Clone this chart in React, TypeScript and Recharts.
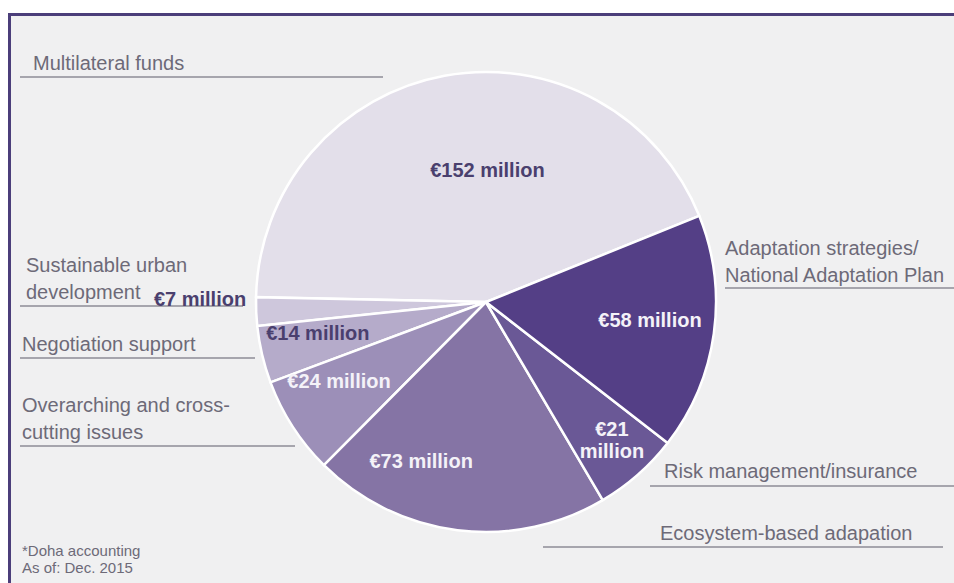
import { Pie, PieChart, Cell } from "recharts";

// slices, counter-clockwise from the upper-right boundary
const categories = [
  "Multilateral funds",
  "Sustainable urban development",
  "Negotiation support",
  "Overarching and cross-cutting issues",
  "Ecosystem-based adapation",
  "Risk management/insurance",
  "Adaptation strategies/National Adaptation Plan",
];
const amounts = [152, 7, 14, 24, 73, 21, 58];
const valueLabels = [
  ["€152 million"],
  ["€7 million"],
  ["€14 million"],
  ["€24 million"],
  ["€73 million"],
  ["€21", "million"],
  ["€58 million"],
];
const sliceColors = ["#E3DFEA", "#CEC7DC", "#B5ABCA", "#9C8FB8", "#8574A5", "#6A5896", "#543F86"];

const data = categories.map((name, i) => ({ name, value: amounts[i], lines: valueLabels[i] }));

// where each value label sits: radius and angle nudge off the slice middle
const labelSpot = [
  { r: 132, da: -11, dark: true },
  { r: 286, da: -3, dark: true },
  { r: 171, da: -2.7, dark: true },
  { r: 167, da: -4.5, dark: false },
  { r: 172, da: -15, dark: false },
  { r: 187, da: 1, dark: false },
  { r: 165, da: 1.6, dark: false },
];

const RAD = Math.PI / 180;
const FONT = "'Liberation Sans', Arial, sans-serif";

function ValueLabel(props: any) {
  const { cx, cy, midAngle, index } = props;
  const spot = labelSpot[index];
  const a = (midAngle + spot.da) * RAD;
  const x = cx + spot.r * Math.cos(-a);
  const y = cy + spot.r * Math.sin(-a);
  const lines: string[] = data[index].lines;
  const lh = 22;
  return (
    <text
      x={x}
      y={y - ((lines.length - 1) * lh) / 2}
      textAnchor="middle"
      dominantBaseline="central"
      fill={spot.dark ? "#4A3F6E" : "#F4F2F8"}
      fontFamily={FONT}
      fontWeight="bold"
      fontSize={20}
    >
      {lines.map((l, i) => (
        <tspan key={i} x={x} dy={i === 0 ? 0 : lh}>
          {l}
        </tspan>
      ))}
    </text>
  );
}

// category captions with their underline rules
const captions = [
  { lines: ["Multilateral funds"], x: 33, y: 70, rule: [20, 383, 77] },
  { lines: ["Sustainable urban", "development"], x: 26, y: 272, rule: [20, 243, 306] },
  { lines: ["Negotiation support"], x: 22, y: 351, rule: [20, 255, 358] },
  { lines: ["Overarching and cross-", "cutting issues"], x: 22, y: 412, rule: [20, 295, 446] },
  { lines: ["Adaptation strategies/", "National Adaptation Plan"], x: 725, y: 255, rule: [725, 954, 288] },
  { lines: ["Risk management/insurance"], x: 664, y: 478, rule: [650, 954, 486] },
  { lines: ["Ecosystem-based adapation"], x: 660, y: 540, rule: [543, 943, 547] },
];

export default function App() {
  return (
    <div style={{ position: "fixed", left: 0, top: 0, width: 954, height: 583, background: "#fff" }}>
      <div
        style={{
          position: "absolute",
          left: 8,
          top: 13,
          right: 0,
          bottom: 0,
          background: "#F0F0F1",
          borderLeft: "3px solid #4B3E7A",
          borderTop: "3px solid #4B3E7A",
        }}
      />
      <svg width={954} height={583} style={{ position: "absolute", left: 0, top: 0 }}>
        {captions.map((c, i) => (
          <g key={i}>
            <text x={c.x} y={c.y} fill="#6D6A78" fontFamily={FONT} fontSize={20}>
              {c.lines.map((l, j) => (
                <tspan key={j} x={c.x} dy={j === 0 ? 0 : 27}>
                  {l}
                </tspan>
              ))}
            </text>
            <line x1={c.rule[0]} x2={c.rule[1]} y1={c.rule[2]} y2={c.rule[2]} stroke="#8E8C96" strokeWidth={1.5} />
          </g>
        ))}
        <text x={22} y={556} fill="#6D6A78" fontFamily={FONT} fontSize={15}>
          *Doha accounting
        </text>
        <text x={22} y={573} fill="#6D6A78" fontFamily={FONT} fontSize={15}>
          As of: Dec. 2015
        </text>
      </svg>
      <div style={{ position: "absolute", left: 0, top: 0 }}>
        <PieChart width={954} height={583} margin={{ top: 0, right: 0, bottom: 0, left: 0 }}>
          <Pie
            data={data}
            dataKey="value"
            nameKey="name"
            cx={486}
            cy={302}
            outerRadius={230}
            startAngle={22}
            endAngle={382}
            stroke="#FFFFFF"
            strokeWidth={2.5}
            label={ValueLabel}
            labelLine={false}
            isAnimationActive={false}
          >
            {data.map((d, i) => (
              <Cell key={d.name} fill={sliceColors[i]} />
            ))}
          </Pie>
        </PieChart>
      </div>
    </div>
  );
}
